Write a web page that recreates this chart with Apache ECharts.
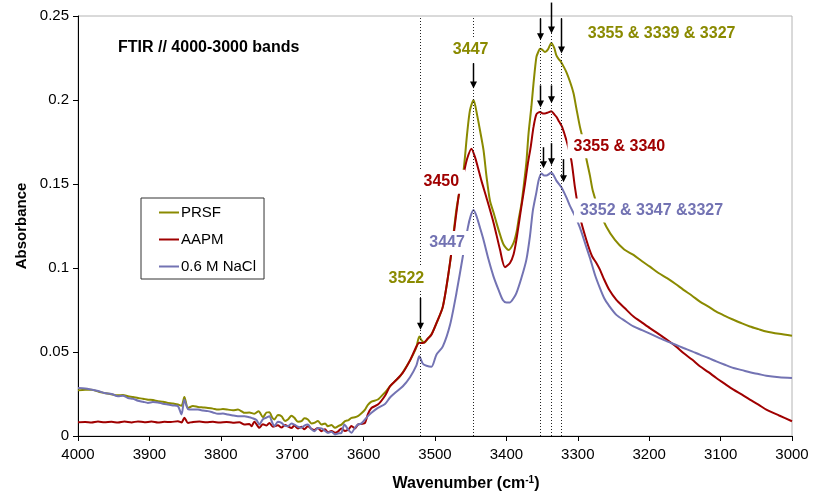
<!DOCTYPE html>
<html><head><meta charset="utf-8">
<script src="https://cdn.jsdelivr.net/npm/echarts@6/dist/echarts.min.js"></script>
<style>html,body{margin:0;padding:0;background:#fff}#c{width:813px;height:501px}</style>
</head><body><div id="c"></div>
<script>
const FONT = 'Liberation Sans, Arial, sans-serif';
const seriesNames = ['PRSF', 'AAPM', '0.6 M NaCl'];
const seriesColors = ['#8a8a00', '#a00000', '#7373b3'];
const xTicks = {min: 3000, max: 4000, interval: 100};
const yTicks = {min: 0, max: 0.25, interval: 0.05};

const prsfPoints = [
[4000,0.0272],[3990,0.0276],[3981,0.0276],[3970,0.0262],[3963,0.0256],[3955,0.0250],[3944,0.0242],[3937,0.0244],[3930,0.0236],[3923,0.0232],[3916,0.0226],[3909,0.0222],[3902,0.0216],[3895,0.0214],[3888,0.0207],[3881,0.0204],[3874,0.0197],[3867,0.0194],[3860,0.0187],[3855,0.0180],[3851,0.0232],[3846,0.0167],[3839,0.0178],[3832,0.0173],[3825,0.0170],[3818,0.0167],[3811,0.0163],[3804,0.0157],[3797,0.0160],[3790,0.0157],[3783,0.0153],[3776,0.0157],[3770,0.0145],[3767,0.0138],[3760,0.0140],[3753,0.0132],[3747,0.0148],[3741,0.0112],[3736,0.0140],[3732,0.0142],[3728,0.0110],[3725,0.0098],[3720,0.0125],[3715,0.0118],[3710,0.0090],[3706,0.0098],[3701,0.0120],[3697,0.0108],[3692,0.0085],[3687,0.0088],[3683,0.0105],[3678,0.0098],[3673,0.0075],[3669,0.0078],[3664,0.0090],[3659,0.0068],[3654,0.0075],[3650,0.0058],[3645,0.0065],[3640,0.0049],[3635,0.0060],[3631,0.0068],[3626,0.0088],[3621,0.0095],[3617,0.0108],[3612,0.0112],[3608,0.0118],[3603,0.0135],[3598,0.0157],[3594,0.0185],[3589,0.0205],[3580,0.0217],[3570,0.026],[3563,0.0296],[3555,0.033],[3549,0.0355],[3545,0.038],[3535,0.045],[3530,0.049],[3526,0.053],[3522,0.0593],[3519,0.0570],[3515,0.0555],[3510,0.058],[3505,0.0605],[3498,0.067],[3489,0.077],[3479,0.103],[3470,0.135],[3465,0.147],[3460,0.158],[3455,0.180],[3451,0.194],[3446,0.200],[3441,0.191],[3437,0.182],[3432,0.170],[3428,0.155],[3423,0.140],[3418,0.133],[3414,0.127],[3409,0.120],[3404,0.114],[3397,0.1107],[3390,0.115],[3386,0.121],[3383,0.1286],[3379,0.138],[3376,0.148],[3372,0.163],[3369,0.180],[3365,0.196],[3362,0.210],[3358,0.2255],[3355,0.229],[3353,0.2305],[3350,0.2300],[3346,0.2285],[3342,0.230],[3337,0.234],[3333,0.231],[3330,0.2265],[3327,0.2245],[3324,0.223],[3320,0.220],[3316,0.2166],[3311,0.211],[3306,0.204],[3302,0.195],[3297,0.184],[3292,0.175],[3288,0.165],[3283,0.155],[3279,0.146],[3270,0.134],[3260,0.1246],[3248,0.1167],[3235,0.111],[3222,0.1078],[3210,0.104],[3199,0.1008],[3187,0.097],[3175,0.094],[3163,0.0905],[3152,0.087],[3140,0.0835],[3129,0.080],[3117,0.077],[3106,0.074],[3094,0.0715],[3082,0.0692],[3070,0.067],[3059,0.0652],[3047,0.0636],[3036,0.0622],[3018,0.0608],[3000,0.0597]
];

const aapmPoints = [
[4000,0.0082],[3990,0.0084],[3981,0.0080],[3972,0.0086],[3963,0.0082],[3953,0.0085],[3944,0.0080],[3935,0.0086],[3925,0.0081],[3916,0.0087],[3907,0.0082],[3897,0.0086],[3888,0.0080],[3879,0.0085],[3870,0.0083],[3860,0.0088],[3855,0.0080],[3851,0.0108],[3846,0.0078],[3839,0.0084],[3830,0.0086],[3820,0.0082],[3811,0.0085],[3802,0.0080],[3792,0.0084],[3783,0.0079],[3774,0.0082],[3767,0.0068],[3760,0.0072],[3757,0.0058],[3753,0.0085],[3746,0.0049],[3741,0.0070],[3736,0.0062],[3732,0.0078],[3727,0.0055],[3720,0.0064],[3715,0.0050],[3710,0.0066],[3706,0.0058],[3701,0.0048],[3697,0.0062],[3692,0.0045],[3687,0.0055],[3683,0.0040],[3678,0.0058],[3673,0.0042],[3669,0.0036],[3664,0.0048],[3659,0.0029],[3654,0.0040],[3650,0.0022],[3645,0.0030],[3640,0.0019],[3636,0.0026],[3631,0.0045],[3626,0.0030],[3621,0.0040],[3617,0.0060],[3612,0.0045],[3608,0.0068],[3603,0.0072],[3598,0.0078],[3594,0.0130],[3589,0.0167],[3580,0.0187],[3570,0.024],[3563,0.0296],[3555,0.033],[3545,0.0377],[3535,0.045],[3526,0.0533],[3522,0.0555],[3517,0.0553],[3510,0.058],[3505,0.0603],[3498,0.0672],[3489,0.077],[3479,0.103],[3470,0.133],[3465,0.148],[3460,0.156],[3455,0.165],[3449,0.171],[3444,0.166],[3440,0.160],[3435,0.152],[3428,0.142],[3418,0.127],[3409,0.111],[3402,0.1005],[3395,0.103],[3390,0.108],[3386,0.1167],[3379,0.1365],[3374,0.150],[3370,0.162],[3366,0.172],[3362,0.184],[3358,0.1915],[3353,0.1929],[3349,0.1920],[3346,0.1920],[3342,0.1925],[3337,0.1933],[3333,0.1915],[3330,0.190],[3326,0.187],[3322,0.184],[3316,0.176],[3309,0.164],[3304,0.148],[3297,0.1305],[3288,0.1167],[3280,0.107],[3274,0.103],[3269,0.099],[3264,0.094],[3256,0.087],[3246,0.081],[3234,0.076],[3222,0.0711],[3210,0.0675],[3199,0.0642],[3187,0.0608],[3175,0.0573],[3163,0.0535],[3152,0.0494],[3140,0.0455],[3129,0.0415],[3117,0.0380],[3106,0.0345],[3094,0.031],[3082,0.0276],[3070,0.0246],[3059,0.0217],[3047,0.0187],[3036,0.0157],[3018,0.0122],[3000,0.0088]
];

const naclPoints = [
[4000,0.0286],[3990,0.0283],[3981,0.0276],[3972,0.0268],[3963,0.0256],[3953,0.0250],[3944,0.0236],[3937,0.0240],[3930,0.0226],[3923,0.0222],[3916,0.0210],[3909,0.0204],[3902,0.0197],[3895,0.0202],[3888,0.0200],[3881,0.0192],[3874,0.0187],[3867,0.0182],[3860,0.0177],[3855,0.0128],[3851,0.0216],[3846,0.0160],[3839,0.0157],[3832,0.0157],[3825,0.0152],[3818,0.0148],[3811,0.0140],[3804,0.0132],[3797,0.0134],[3790,0.0128],[3783,0.0122],[3776,0.0118],[3767,0.0118],[3760,0.0112],[3757,0.0108],[3750,0.0095],[3746,0.0068],[3741,0.0100],[3736,0.0110],[3732,0.0118],[3728,0.0080],[3725,0.0058],[3720,0.0085],[3715,0.0078],[3710,0.0060],[3706,0.0058],[3701,0.0075],[3697,0.0068],[3692,0.0055],[3687,0.0049],[3683,0.0062],[3678,0.0068],[3673,0.0040],[3669,0.0029],[3664,0.0048],[3659,0.0045],[3654,0.0030],[3650,0.0019],[3645,0.0025],[3640,0.0009],[3636,0.0015],[3631,0.0019],[3627,0.0068],[3621,0.0035],[3617,0.0019],[3612,0.0050],[3608,0.0068],[3603,0.0075],[3598,0.0098],[3594,0.0118],[3589,0.0138],[3580,0.0167],[3570,0.019],[3563,0.0229],[3555,0.026],[3545,0.0296],[3535,0.035],[3526,0.042],[3522,0.0474],[3517,0.0430],[3512,0.0418],[3505,0.0412],[3498,0.0484],[3489,0.0533],[3479,0.066],[3470,0.085],[3461,0.107],[3454,0.124],[3450,0.131],[3446,0.1345],[3442,0.131],[3437,0.124],[3432,0.1167],[3425,0.105],[3418,0.0949],[3411,0.087],[3405,0.081],[3400,0.0795],[3395,0.0795],[3390,0.082],[3386,0.085],[3379,0.094],[3372,0.105],[3367,0.119],[3363,0.134],[3358,0.145],[3355,0.152],[3351,0.1563],[3347,0.1550],[3344,0.1550],[3340,0.1560],[3337,0.1569],[3333,0.1545],[3330,0.152],[3323,0.148],[3316,0.142],[3311,0.137],[3304,0.131],[3297,0.124],[3290,0.115],[3283,0.106],[3276,0.096],[3269,0.088],[3263,0.082],[3257,0.078],[3246,0.0721],[3234,0.0685],[3222,0.0652],[3210,0.063],[3199,0.0609],[3187,0.0586],[3175,0.0563],[3163,0.0543],[3152,0.0524],[3140,0.0504],[3129,0.0484],[3117,0.0464],[3106,0.0444],[3094,0.0424],[3082,0.0405],[3070,0.0392],[3059,0.0379],[3047,0.0369],[3036,0.0359],[3018,0.0350],[3000,0.0345]
];

// annotation content (wavenumber / absorbance coordinates)
const peakLines = [3521, 3447, 3353, 3337, 3324];
const arrows = [
  [3521, 0.0822, 0.0632],
  [3447, 0.2218, 0.2069],
  [3353, 0.2485, 0.2355], [3337, 0.258, 0.2396], [3324, 0.2485, 0.2277],
  [3353, 0.2087, 0.1956], [3337, 0.2087, 0.1980],
  [3348.5, 0.1719, 0.1594], [3337, 0.1743, 0.1612], [3321, 0.1648, 0.1511]
];
const peakLabels = [
  {text: '3447', wn: 3475, ab: 0.2301, s: 0},
  {text: '3355 & 3339 & 3327', wn: 3286, ab: 0.2393, s: 0},
  {text: '3355 & 3340', wn: 3306, ab: 0.1725, s: 1},
  {text: '3352 & 3347 &3327', wn: 3297, ab: 0.1342, s: 2},
  {text: '3450', wn: 3516, ab: 0.1514, s: 1},
  {text: '3447', wn: 3508, ab: 0.1149, s: 2},
  {text: '3522', wn: 3565, ab: 0.0936, s: 0}
];
const chartTitle = 'FTIR // 4000-3000 bands';

const chart = echarts.init(document.getElementById('c'), null, {renderer: 'canvas'});
const allPoints = [prsfPoints, aapmPoints, naclPoints];

chart.setOption({
  animation: false,
  backgroundColor: '#fff',
  textStyle: {fontFamily: FONT},
  title: {text: chartTitle, left: 118, top: 40, padding: 0,
    textStyle: {fontSize: 16, fontWeight: 'bold', color: '#000', fontFamily: FONT}},
  grid: {left: 78, right: 21, top: 16, bottom: 65, show: true, borderColor: '#b4b4b4', borderWidth: 1, containLabel: false},
  legend: {
    orient: 'vertical', left: 141, top: 198, itemWidth: 20, itemHeight: 2, itemGap: 12,
    icon: 'rect', borderColor: '#333', borderWidth: 1, backgroundColor: '#fff',
    padding: [7, 8, 5, 18],
    textStyle: {fontSize: 15, color: '#000', fontFamily: FONT, padding: [0, 0, 0, -3]},
    data: seriesNames
  },
  xAxis: {
    type: 'value', inverse: true, min: xTicks.min, max: xTicks.max, interval: xTicks.interval,
    axisLine: {show: true, lineStyle: {color: '#000', width: 1}},
    axisTick: {show: true, length: 5, lineStyle: {color: '#000'}},
    axisLabel: {fontSize: 15, color: '#000', margin: 11, fontFamily: FONT, formatter: v => String(v)},
    splitLine: {show: false},
    name: '{t|Wavenumber (cm}{s|-1}{t|)}', nameLocation: 'middle', nameGap: 39,
    nameTextStyle: {padding: [0, 0, 0, 62], fontSize: 16, fontWeight: 'bold', color: '#000',
      rich: {t: {fontSize: 16, fontWeight: 'bold', color: '#000', fontFamily: FONT, lineHeight: 18},
             s: {fontSize: 10, fontWeight: 'bold', color: '#000', fontFamily: FONT, verticalAlign: 'top', lineHeight: 10}}}
  },
  yAxis: {
    type: 'value', min: yTicks.min, max: yTicks.max, interval: yTicks.interval,
    axisLine: {show: true, lineStyle: {color: '#000', width: 1}},
    axisTick: {show: true, length: 5, lineStyle: {color: '#000'}},
    axisLabel: {fontSize: 15, color: '#000', margin: 9, fontFamily: FONT},
    splitLine: {show: false},
    name: 'Absorbance', nameLocation: 'middle', nameGap: 48,
    nameTextStyle: {fontSize: 15, fontWeight: 'bold', color: '#000', fontFamily: FONT}
  },
  series: seriesNames.map((n, i) => ({
    name: n, type: 'line', data: allPoints[i], showSymbol: false, symbol: 'none',
    smooth: 0.25,
    color: seriesColors[i], lineStyle: {width: 2, color: seriesColors[i]}, z: 2 + i
  }))
});

const px = (wn, ab) => chart.convertToPixel({gridIndex: 0}, [wn, ab]);
const graphics = [];
peakLines.forEach(w => {
  const a = px(w, yTicks.min), b = px(w, yTicks.max);
  graphics.push({type: 'line', z: 10, silent: true,
    shape: {x1: Math.round(a[0]) + 0.5, y1: a[1], x2: Math.round(a[0]) + 0.5, y2: b[1]},
    style: {stroke: '#222', lineWidth: 1, lineDash: [1, 2]}});
});
arrows.forEach(([w, v0, v1]) => {
  const a = px(w, v0), b = px(w, v1);
  const x = Math.round(a[0]) + 0.5;
  graphics.push({type: 'line', z: 11, silent: true,
    shape: {x1: x, y1: a[1], x2: x, y2: b[1] - 5}, style: {stroke: '#000', lineWidth: 1.5}});
  graphics.push({type: 'polygon', z: 11, silent: true,
    shape: {points: [[x - 3.5, b[1] - 7], [x + 3.5, b[1] - 7], [x, b[1]]]}, style: {fill: '#000'}});
});
peakLabels.forEach(l => {
  const p = px(l.wn, l.ab);
  graphics.push({type: 'text', z: 12, silent: true, x: p[0] - 6, y: p[1],
    style: {text: l.text, fill: seriesColors[l.s], font: 'bold 16px ' + FONT,
      align: 'left', verticalAlign: 'middle', backgroundColor: '#fff', padding: [4, 6, 4, 6]}});
});
chart.setOption({graphic: graphics});
</script></body></html>
